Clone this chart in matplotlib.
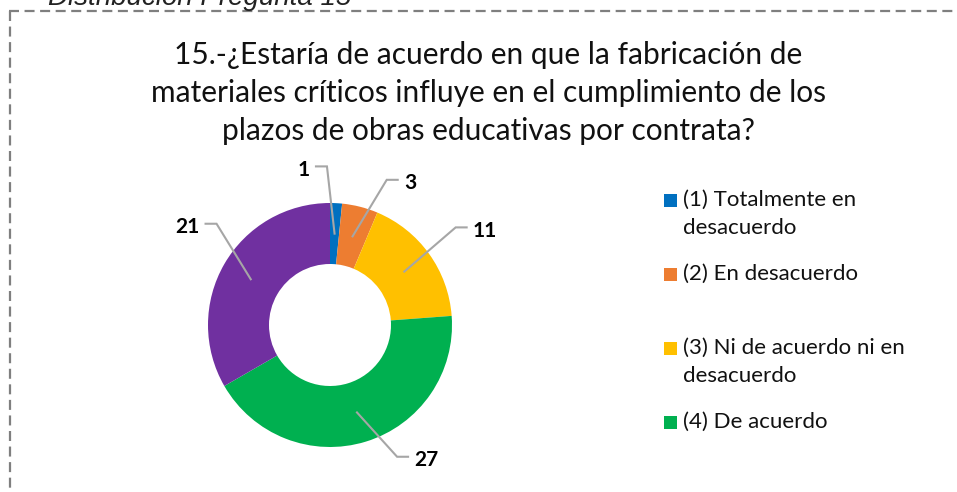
import matplotlib.pyplot as plt
import numpy as np
from matplotlib.lines import Line2D
from matplotlib.patches import Rectangle

# Datos de la pregunta 15
categorias = ["(1) Totalmente en\ndesacuerdo", "(2) En desacuerdo",
              "(3) Ni de acuerdo ni en\ndesacuerdo", "(4) De acuerdo",
              "(5) Totalmente de acuerdo"]
valores = [1, 3, 11, 27, 21]
colores = ["#0070C0", "#ED7D31", "#FFC000", "#00B050", "#7030A0"]

titulo = ("15.-¿Estaría de acuerdo en que la fabricación de\n"
          "materiales críticos influye en el cumplimiento de los\n"
          "plazos de obras educativas por contrata?")
encabezado = "Distribución Pregunta 15"

W, H = 957, 492
fig = plt.figure(figsize=(W / 100, H / 100), dpi=100)
fig.patch.set_facecolor("white")

# eje que cubre toda la figura, 1 unidad = radio del anillo (122 px)
cx, cy, R = 330, 325, 122
ax = fig.add_axes([0, 0, 1, 1])
wedges, _ = ax.pie(valores, colors=colores, startangle=90, counterclock=False,
                   radius=1, wedgeprops=dict(width=0.5, linewidth=0))
ax.set_xlim(-cx / R, (W - cx) / R)
ax.set_ylim(-(H - cy) / R, cy / R)
ax.set_aspect("equal")
ax.axis("off")

# etiquetas de datos con lineas guia (posicion del texto en unidades del eje)
pos_texto = [(-0.22, 1.27), (0.66, 1.16), (1.27, 0.77), (0.79, -1.11), (-1.17, 0.80)]
lado = [1, -1, -1, -1, 1]  # hacia donde sale la linea desde el texto
for w, v, (tx, ty), s in zip(wedges, valores, pos_texto, lado):
    ang = np.deg2rad((w.theta1 + w.theta2) / 2)
    ex, ey = 0.75 * np.cos(ang), 0.75 * np.sin(ang)
    ancho = 0.06 + 0.045 * len(str(v))
    x0 = tx + s * ancho
    x1 = x0 + s * 0.09
    ax.plot([x0, x1, ex], [ty + 0.03, ty + 0.03, ey], color="#A6A6A6", lw=1.5,
            solid_joinstyle="miter")
    ax.text(tx, ty, str(v), ha="center", va="center", fontsize=15,
            fontweight="bold", family="Lato", color="black")

# titulo
fig.text(488 / W, 1 - 93 / H, titulo, ha="center", va="center", fontsize=21.5,
         family="Lato", color="#111111", linespacing=1.42)

# encabezado cortado arriba
fig.text(48 / W, 1 - 5 / H, encabezado, ha="left", va="baseline", fontsize=20,
         style="italic", family="Liberation Sans", color="#222222")

# leyenda manual (solo se ven las 4 primeras entradas)
y_leyenda = [200, 274, 348, 422]
for cat, col, y in zip(categorias[:4], colores[:4], y_leyenda):
    fig.patches.append(Rectangle(((664) / W, 1 - (y + 7) / H), 13 / W, 13 / H,
                                 transform=fig.transFigure, facecolor=col,
                                 edgecolor="none"))
    fig.text(683 / W, 1 - (y - 10) / H, cat, ha="left", va="top", fontsize=16,
             family="Lato", color="#111111", linespacing=1.5)

# borde punteado
estilo = dict(color="#7F7F7F", lw=1.6, linestyle=(0, (4.5, 2.5)),
              transform=fig.transFigure)
fig.lines.append(Line2D([9 / W, 1], [1 - 11 / H, 1 - 11 / H], **estilo))
fig.lines.append(Line2D([10 / W, 10 / W], [1 - 11 / H, 0], **estilo))

fig.savefig("out.png", dpi=100)
